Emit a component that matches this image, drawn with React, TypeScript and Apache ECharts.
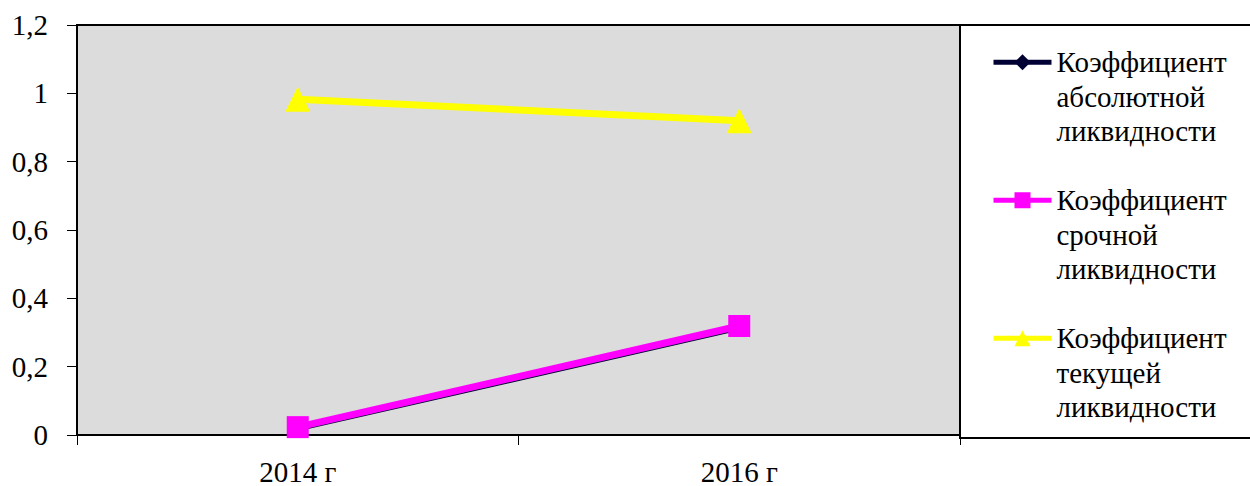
import React, { useEffect, useRef } from "react";
import * as echarts from "echarts";

const categories = ["2014 г", "2016 г"];
const seriesNames = [
  "Коэффициент абсолютной ликвидности",
  "Коэффициент срочной ликвидности",
  "Коэффициент текущей ликвидности",
];
const absoluteValues = [0.015, 0.31];
const quickValues = [0.023, 0.319];
const currentValues = [0.983, 0.92];
const yTicks = { min: 0, max: 1.2, interval: 0.2 };

const FONT = "Liberation Serif";

export default function App() {
  const ref = useRef<HTMLDivElement>(null);
  useEffect(() => {
    if (!ref.current) return;
    const chart = echarts.init(ref.current, null, { renderer: "svg" });
    chart.setOption({
      animation: false,
      backgroundColor: "#ffffff",
      textStyle: { fontFamily: FONT },
      grid: {
        left: 77,
        right: 290,
        top: 25,
        bottom: 49,
        show: true,
        backgroundColor: "#dcdcdc",
        borderColor: "#000000",
        borderWidth: 2,
      },
      graphic: [
        {
          type: "rect",
          shape: { x: 960, y: 25, width: 320, height: 413 },
          style: { fill: "none", stroke: "#000000", lineWidth: 2 },
          z: 0,
        },
      ],
      legend: {
        orient: "vertical",
        left: 991,
        top: -24,
        padding: 0,
        itemWidth: 58,
        itemHeight: 20,
        itemGap: -34.5,
        data: seriesNames,
        selectedMode: false,
        formatter: (name: string) => "\n\n" + name.split(" ").join("\n"),
        textStyle: {
          fontFamily: FONT,
          fontSize: 29,
          color: "#000000",
          lineHeight: 34.5,
        },
        lineStyle: { width: 5 },
      },
      xAxis: {
        type: "category",
        data: categories,
        boundaryGap: true,
        axisLine: { show: true, lineStyle: { color: "#000000", width: 2 } },
        axisTick: { show: true, length: 10, interval: 0, lineStyle: { color: "#000000", width: 1 } },
        axisLabel: { margin: 22, fontFamily: FONT, fontSize: 29, color: "#000000" },
        splitLine: { show: false },
      },
      yAxis: {
        type: "value",
        min: yTicks.min,
        max: yTicks.max,
        interval: yTicks.interval,
        axisLine: { show: true, lineStyle: { color: "#000000", width: 2 } },
        axisTick: { show: true, length: 10, lineStyle: { color: "#000000", width: 1 } },
        axisLabel: {
          margin: 29,
          fontFamily: FONT,
          fontSize: 29,
          color: "#000000",
          formatter: (v: number) => String(Math.round(v * 10) / 10).replace(".", ","),
        },
        splitLine: { show: false },
      },
      series: [
        {
          name: seriesNames[0],
          type: "line",
          data: absoluteValues,
          symbol: "diamond",
          symbolSize: 10,
          lineStyle: { color: "#000033", width: 3 },
          itemStyle: { color: "#000033" },
        },
        {
          name: seriesNames[1],
          type: "line",
          data: quickValues,
          symbol: "rect",
          symbolSize: 22,
          lineStyle: { color: "#ff00ff", width: 7 },
          itemStyle: { color: "#ff00ff" },
        },
        {
          name: seriesNames[2],
          type: "line",
          data: currentValues,
          symbol: "triangle",
          symbolSize: 25,
          lineStyle: { color: "#ffff00", width: 7 },
          itemStyle: { color: "#ffff00" },
        },
      ],
    });
    return () => chart.dispose();
  }, []);
  return <div ref={ref} style={{ width: 1250, height: 486, position: "absolute", left: 0, top: 0 }} />;
}
